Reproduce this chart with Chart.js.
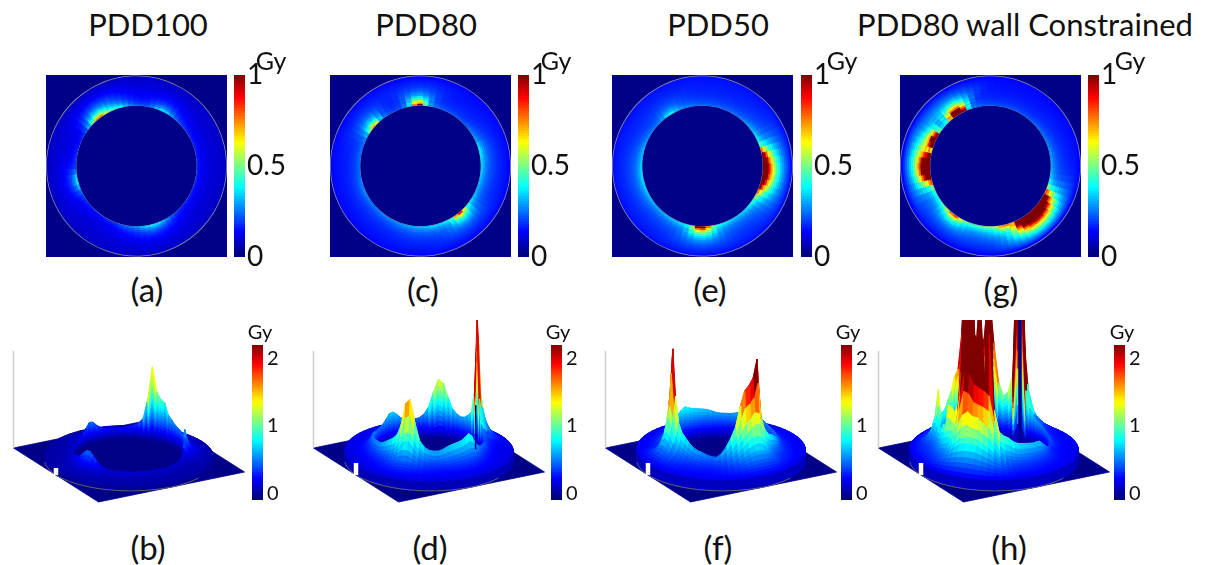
<!DOCTYPE html>
<html>
<head>
<meta charset="utf-8">
<script src="https://cdn.jsdelivr.net/npm/chart.js@4/dist/chart.umd.js"></script>
<style>
  html, body { margin: 0; background: #fff; }
  body { width: 1208px; height: 565px; position: relative; overflow: hidden; font-family: Lato, sans-serif; color: #111; filter: blur(0.45px); }
  canvas { position: absolute; }
  .heat { background: #000088; filter: blur(0.6px); }
  .label { position: absolute; transform: translate(-50%, -50%); white-space: nowrap; }
</style>
</head>
<body>
<script>
// every wall list has one value per 5 degrees, counter-clockwise from the +x side
const aWall = [.15,.15,.15,.15,.15,.15,.15,.16,.17,.19,.22,.27,.33,.35,.3,.24,.2,.2,.21,.24,.3,.38,.42,.47,.55,.72,.7,.48,.3,.2,.16,.14,.14,.15,.16,.17,.18,.24,.34,.36,.3,.22,.18,.16,.15,.14,.14,.14,.15,.16,.17,.2,.22,.24,.26,.3,.34,.36,.34,.3,.25,.2,.18,.16,.15,.15,.15,.15,.15,.15,.15,.15];
const cWall = [.33,.34,.36,.36,.33,.28,.25,.24,.22,.2,.2,.2,.2,.2,.21,.23,.28,.45,1.05,.75,.35,.24,.2,.19,.2,.23,.32,.6,.68,.5,.3,.25,.23,.23,.23,.23,.23,.23,.24,.25,.25,.26,.25,.24,.24,.24,.25,.25,.25,.26,.27,.28,.29,.3,.31,.32,.33,.33,.34,.36,.42,.7,.85,.6,.4,.34,.32,.3,.3,.31,.32,.33];
const eWall = [1.6,1.5,1.2,.75,.45,.36,.33,.3,.28,.26,.24,.23,.23,.22,.22,.22,.22,.22,.22,.23,.24,.25,.27,.32,.38,.35,.28,.25,.24,.24,.25,.26,.28,.3,.31,.32,.33,.34,.34,.34,.33,.32,.31,.3,.29,.29,.29,.3,.31,.32,.34,.38,.5,1,1.1,.75,.48,.4,.36,.34,.32,.32,.33,.34,.37,.42,.52,.75,1,1.3,1.6,1.7];
const gWall = [.28,.28,.27,.26,.25,.24,.23,.22,.22,.21,.2,.2,.2,.2,.2,.2,.2,.2,.2,.21,.22,.24,.35,1,2,1.8,.7,.4,.35,.45,1,1.9,1.3,.65,1.1,2.6,3,2.6,1.5,.8,.5,.42,.4,.42,.46,.55,.75,.8,.6,.48,.45,.44,.46,.5,.5,.55,.72,.75,.7,1.3,2.6,2.8,2.7,2.5,2.3,2.2,1.5,.8,.5,.38,.32,.3];
const bHeight = [.18,.18,.17,.17,.17,.17,.18,.18,.2,.24,.35,.55,.7,.6,.5,.48,.48,.5,.52,.55,.62,.7,.95,1,1.15,1.7,.95,.5,.38,.33,.3,.28,.27,.27,.28,.3,.33,.4,.5,.52,.42,.3,.22,.2,.19,.18,.18,.18,.18,.18,.2,.22,.25,.28,.33,.42,.5,.52,.45,.33,.25,.22,.2,.19,.19,.19,.18,.18,.18,.18,.18,.18];
const dHeight = [.8,.82,.87,.93,.85,.68,.58,.52,.5,.5,.48,.46,.45,.46,.48,.52,.65,1.2,3,1.3,.8,.7,.62,.6,.65,.75,1,1.3,1.38,1.1,.75,.58,.5,.48,.48,.5,.55,.65,.73,.72,.62,.55,.52,.5,.5,.52,.55,.56,.57,.56,.56,.58,.6,.6,.62,.66,.72,.78,.85,.95,1.2,1.7,1.8,1.3,.9,.75,.68,.66,.66,.7,.75,.78];
const fHeight = [2.1,2.25,2.65,1.4,1.05,.9,.82,.78,.72,.66,.6,.56,.54,.52,.52,.52,.52,.52,.54,.56,.6,.64,.68,.72,.78,.72,.66,.62,.6,.6,.6,.62,.66,.7,.72,.74,.76,.8,.85,.8,.74,.68,.64,.62,.6,.6,.6,.6,.6,.6,.62,.7,1.05,1.8,2.75,1.7,1.15,.95,.86,.76,.68,.63,.6,.56,.53,.52,.6,.75,.95,1.2,1.65,2];
const hHeight = [.78,.76,.74,.72,.72,.7,.62,.55,.48,.43,.42,.44,.45,.46,.46,.46,.48,.52,.56,.58,.6,.7,.83,1.2,5,5,1.5,1.1,1,1.3,2.2,3.5,2.3,2.2,2.4,5,5,2.5,1.7,1.55,1.25,1.1,.95,.9,.9,1,1.3,1.55,1.2,.95,.85,.85,.85,1,1,1.5,1.5,1.4,1.6,3,4.2,4.2,2.7,4.2,2.3,4.2,1.6,1.1,1,.95,.85,.8];
const aRim = .07, cRim = .13, eRim = .14, gRim = .13;
const bRim = .08, dRim = .2, fRim = .24, hRim = .24;

// how much of the wall excess is left at each ring, from the hole out to the edge,
// and how many neighbouring 5 degree cells the glow has spread over by then
const ringFall = [1,.78,.62,.5,.41,.34,.28,.23,.19,.15,.12,.09,.06,.03,0];
const ringSpread = [0,1,1,2,2,3,3,4,4,5,5,6,6,6,6];
const surfRadius = [.66,.68,.7,.72,.745,.77,.795,.82,.85,.88,.91,.94,.97,1];
const surfFall = [1,.78,.6,.48,.38,.3,.24,.2,.16,.12,.09,.06,.03,0];
const surfSpread = [0,0,1,1,2,2,3,3,4,4,5,5,6,6];

const topTicks = [0, .5, 1];
const bottomTicks = [0, 1, 2];
const levels = 64;

const DARK = '#000088';
// view of the 3D plots: screen px per unit of the two floor axes and of dose
const ex = [42.5, 27], ey = [73, -15], zPx = 44;

function jet(t) {
  t = Math.max(0, Math.min(1, t));
  const c = v => Math.round(255 * Math.max(0, Math.min(1, v)));
  return `rgb(${c(Math.min(4 * t - 1.5, 4.5 - 4 * t))},${c(Math.min(4 * t - .5, 3.5 - 4 * t))},${c(Math.min(4 * t + .5, 2.5 - 4 * t))})`;
}

// wall value at cell i, averaged with its neighbours out to w cells
function spreadAt(list, i, w) {
  let sum = 0, total = 0;
  for (let d = -w; d <= w; d++) {
    const weight = w + 1 - Math.abs(d);
    sum += list[(i + d + list.length) % list.length] * weight;
    total += weight;
  }
  return sum / total;
}

function addCanvas(left, top, w, h, cls) {
  const cv = document.createElement('canvas');
  cv.width = w; cv.height = h;
  cv.style.left = left + 'px'; cv.style.top = top + 'px';
  if (cls) cv.className = cls;
  document.body.appendChild(cv);
  return cv;
}

function addLabel(text, x, y, size) {
  const d = document.createElement('div');
  d.className = 'label';
  d.textContent = text;
  d.style.left = x + 'px'; d.style.top = y + 'px'; d.style.fontSize = size + 'px';
  document.body.appendChild(d);
}

const quiet = { legend: { display: false }, tooltip: { enabled: false } };

// top row: ring map, one doughnut dataset per ring
function heatMap(left, wall, rim) {
  const gray = w => ({ data: [1], backgroundColor: '#8d8da8', borderWidth: 0, weight: w });
  const datasets = [gray(.4)];
  for (let k = ringFall.length - 1; k >= 0; k--) {
    const colors = wall.map((_, j) => {
      const v = spreadAt(wall, (wall.length - j) % wall.length, ringSpread[k]);
      return jet(rim + (v - rim) * ringFall[k]);
    });
    datasets.push({ data: wall.map(() => 1), backgroundColor: colors, borderColor: colors, borderWidth: 1, weight: 1 });
  }
  datasets.push(gray(.4));
  new Chart(addCanvas(left, 75, 181, 182, 'heat'), {
    type: 'doughnut',
    data: { datasets },
    options: { responsive: false, animation: false, events: [], rotation: 87.5, cutout: '66.5%', radius: '100%', plugins: quiet }
  });
}

function colorBar(left, top, barW, barH, min, max, ticks, size, gap) {
  const step = (max - min) / levels;
  const datasets = [];
  for (let i = 0; i < levels; i++) {
    const lo = min + i * step;
    datasets.push({ data: [[lo, lo + step * 1.4]], backgroundColor: jet(i / (levels - 1)), grouped: false, barPercentage: 1, categoryPercentage: 1 });
  }
  new Chart(addCanvas(left, top - 24, barW + 50, barH + 48), {
    type: 'bar',
    data: { labels: [''], datasets },
    options: {
      responsive: false, animation: false, events: [],
      layout: { padding: { top: 24, bottom: 24 } },
      plugins: quiet,
      scales: {
        x: { display: false },
        y: {
          position: 'right', min, max,
          grid: { display: false, drawTicks: false }, border: { display: false },
          afterFit: s => { s.width = 50; },
          afterBuildTicks: s => { s.ticks = ticks.map(value => ({ value })); },
          ticks: { color: '#111', padding: gap, autoSkip: false, font: { family: 'Lato', size }, callback: v => String(v) }
        }
      }
    }
  });
}

function project(r, deg, z) {
  const c = Math.cos(deg * Math.PI / 180), s = Math.sin(deg * Math.PI / 180);
  return { x: r * (c * ex[0] + s * ey[0]), y: -r * (c * ex[1] + s * ey[1]) + z * zPx, depth: r * (c * ex[1] + s * ey[1]) };
}

// bottom row: the dose surface as filled mesh cells, painted back to front
function surface(cx, height, rim, dark, notch) {
  const cells = [];
  const cell = (pts, z) => {
    cells.push({ pts, color: jet(z / 2.2), depth: pts.reduce((a, p) => a + p.depth, 0) / pts.length });
  };
  const n = height.length;
  const zAt = (i, k) => rim + (spreadAt(height, i, surfSpread[k]) - rim) * surfFall[k];
  for (let i = 0; i < n; i++) {
    const a0 = i * 5, a1 = (i + 1) * 5, j = (i + 1) % n;
    // the wall facing the hole
    const bands = 12;
    for (let b = 0; b < bands; b++) {
      const t0 = b / bands, t1 = (b + 1) / bands;
      cell([project(.66, a0, height[i] * t0), project(.66, a1, height[j] * t0), project(.66, a1, height[j] * t1), project(.66, a0, height[i] * t1)],
        (height[i] + height[j]) / 2 * (t0 + t1) / 2);
    }
    // the sloped top
    for (let k = 0; k < surfRadius.length - 1; k++) {
      const r0 = surfRadius[k], r1 = surfRadius[k + 1];
      cell([project(r0, a0, zAt(i, k)), project(r0, a1, zAt(j, k)), project(r1, a1, zAt(j, k + 1)), project(r1, a0, zAt(i, k + 1))],
        (zAt(i, k) + zAt(j, k) + zAt(i, k + 1) + zAt(j, k + 1)) / 4);
    }
    // outer side of the disk
    cell([project(1, a0, 0), project(1, a1, 0), project(1, a1, rim), project(1, a0, rim)], rim * .6);
  }
  cells.sort((p, q) => p.depth - q.depth);

  const line = (data, color, width) => ({ data, showLine: true, pointRadius: 0, borderColor: color, borderWidth: width, tension: 0 });
  const poly = (pts, color) => ({
    data: pts.concat(pts[0]), showLine: true, pointRadius: 0, tension: 0,
    fill: 'shape', backgroundColor: color, borderColor: color, borderWidth: .8
  });
  const floor = [[1, 1], [1, -1], [-1, -1], [-1, 1]].map(([X, Y]) => ({
    x: X * ex[0] + Y * ey[0], y: -(X * ex[1] + Y * ey[1]), depth: 0
  }));
  const paint = [poly(floor, DARK)];
  paint.push(line([floor[2], { x: floor[2].x, y: floor[2].y + 97 }], '#cfcfcf', 1.5));
  cells.forEach(c => paint.push(poly(c.pts, c.color)));
  dark.forEach(([deg, h, w]) => paint.push(line([project(.66, deg, 0), project(.66, deg, h)], DARK, w)));
  // thin outline of the disk on the floor, front part
  const front = [];
  for (let a = 245; a <= 385; a += 5) front.push(project(1, a, 0));
  paint.push(line(front, '#77776a', .8));
  // small white gap on the near floor edge
  const nx = -ey[0], ny = ey[1];
  paint.push(line([{ x: nx, y: ny }, { x: nx, y: ny + notch }], '#fff', 4.5));

  new Chart(addCanvas(cx - 130, 320, 260, 190), {
    type: 'scatter',
    data: { datasets: paint.reverse() },
    options: {
      responsive: false, animation: false, events: [], plugins: quiet,
      layout: { padding: 0 },
      scales: {
        x: { display: false, min: -130, max: 130 },
        y: { display: false, min: -50, max: 140 }
      }
    }
  });
}

heatMap(45.5, aWall, aRim);
heatMap(329.5, cWall, cRim);
heatMap(612, eWall, eRim);
heatMap(899.5, gWall, gRim);

colorBar(234, 75, 11, 182, 0, 1, topTicks, 28, 2);
colorBar(518, 75, 11, 182, 0, 1, topTicks, 28, 2);
colorBar(801, 75, 11, 182, 0, 1, topTicks, 28, 2);
colorBar(1088, 75, 11, 182, 0, 1, topTicks, 28, 2);

surface(128.5, bHeight, bRim, [], 7);
surface(428.5, dHeight, dRim, [[93, 1, 1.5]], 12);
surface(720.5, fHeight, fRim, [], 12);
surface(994, hHeight, hRim, [[122, 5, 3.5]], 12);

colorBar(252, 345, 11, 155, -.1, 2.2, bottomTicks, 20, 4);
colorBar(551, 345, 11, 155, -.1, 2.2, bottomTicks, 20, 4);
colorBar(841, 345, 11, 155, -.1, 2.2, bottomTicks, 20, 4);
colorBar(1114, 345, 11, 155, -.1, 2.2, bottomTicks, 20, 4);

addLabel('PDD100', 148, 24, 31);
addLabel('PDD80', 426, 24, 31);
addLabel('PDD50', 718, 24, 31);
addLabel('PDD80 wall Constrained', 1025, 24, 31);

[[271, 'Gy'], [556, 'Gy'], [842, 'Gy'], [1130, 'Gy']].forEach(([x, t]) => addLabel(t, x, 60, 25));
[[260, 'Gy'], [558, 'Gy'], [848, 'Gy'], [1122, 'Gy']].forEach(([x, t]) => addLabel(t, x, 331, 20));

[[147, '(a)'], [423, '(c)'], [710, '(e)'], [1001, '(g)']].forEach(([x, t]) => addLabel(t, x, 289, 33));
[[148, '(b)'], [430, '(d)'], [718, '(f)'], [1009, '(h)']].forEach(([x, t]) => addLabel(t, x, 547, 33));
</script>
</body>
</html>
